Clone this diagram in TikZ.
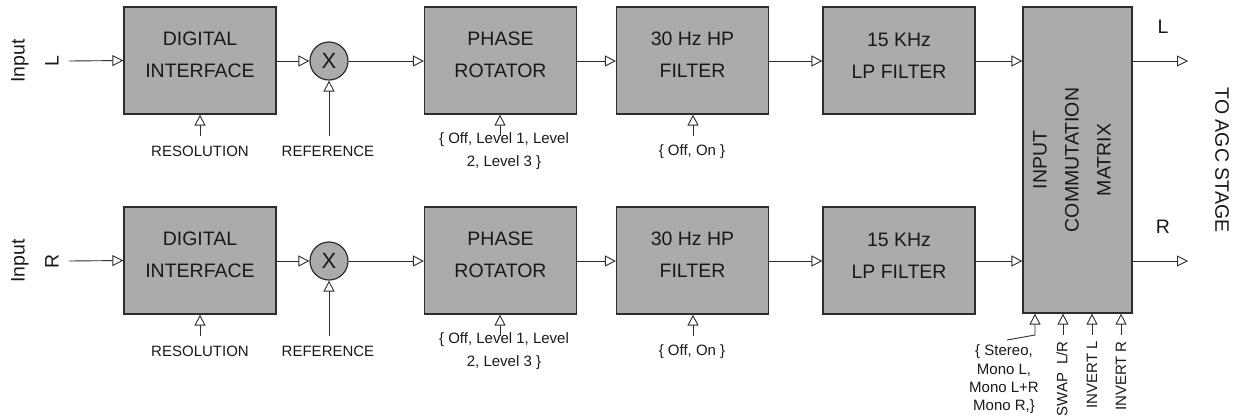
\documentclass[tikz,border=0pt]{standalone}
\usepackage{fontspec}
\setmainfont{Liberation Sans}
\usetikzlibrary{arrows.meta}
\definecolor{boxgray}{RGB}{171,171,171}
\definecolor{linegray}{RGB}{45,45,45}
\definecolor{txt}{RGB}{25,25,25}
\begin{document}
\begin{tikzpicture}[x=1pt,y=-1pt,
  blk/.style={draw=linegray, line width=1.2pt, fill=boxgray, minimum width=152pt, minimum height=107pt, inner sep=0pt},
  blktext/.style={align=center, text=txt, font=\fontsize{19.5}{32}\selectfont, inner sep=0pt},
  big/.style={text=txt, font=\fontsize{19.5}{34}\selectfont, inner sep=0pt},
  small/.style={text=txt, font=\fontsize{15}{23}\selectfont, inner sep=0pt, align=center},
  conn/.style={draw=linegray, line width=0.9pt, -{Triangle[length=11pt,width=11pt,fill=white]}},
  mult/.style={circle, draw=linegray, line width=1.2pt, fill=boxgray, minimum size=38pt, inner sep=0pt, font=\fontsize{22}{22}\selectfont, text=txt}
]
\useasboundingbox (0,0) rectangle (1238,418);

\foreach \r/\dy in {L/0,R/200}{
  % input label
  \node[big, rotate=90, align=center] (in\r) at (35,61+\dy) {Input\\\r};
  \coordinate (src\r) at (69,61+\dy);
  % blocks
  \node[blk] (di\r) at (200,60.5+\dy) {};
  \node[blktext] (dit\r) at (200,55+\dy) {DIGITAL\\INTERFACE};
  \node[mult] (x\r) at (329,61+\dy) {X};
  \node[blk] (pr\r) at (500.5,60.5+\dy) {};
  \node[blktext] (prt\r) at (500.5,54.5+\dy) {PHASE\\ROTATOR};
  \node[blk] (hp\r) at (692.5,60.5+\dy) {};
  \node[blktext] (hpt\r) at (692.5,54.5+\dy) {30 Hz HP\\FILTER};
  \node[blk] (lp\r) at (899,60.5+\dy) {};
  \node[blktext] (lpt\r) at (899,55.5+\dy) {15 KHz\\LP FILTER};
  % control labels
  \node[small] (res\r) at (200,151+\dy) {RESOLUTION};
  \node[small] (ref\r) at (328,151+\dy) {REFERENCE};
  \node[small] (prc\r) at (504,151.5+\dy) {\{ Off, Level 1, Level\\2, Level 3 \}};
  \node[small] (hpc\r) at (692,152+\dy) {\{ Off, On \}};
  \coordinate (cres\r) at (200,136+\dy);
  \coordinate (cref\r) at (329,136+\dy);
  \coordinate (cpr\r) at (500,136+\dy);
  \coordinate (chp\r) at (693,136+\dy);
}

% commutation matrix
\node[draw=linegray, line width=1.2pt, fill=boxgray, minimum width=109pt, minimum height=306pt, inner sep=0pt] (mat) at (1077.5,160) {};
\node[blktext, rotate=90] (matt) at (1072,160) {INPUT\\COMMUTATION\\MATRIX};

\foreach \r in {L,R}{
  \draw[conn] (src\r) -- (di\r.west);
  \draw[conn] (di\r.east |- x\r.west) -- (x\r.west);
  \draw[conn] (x\r.east) -- (x\r.east -| pr\r.west);
  \draw[conn] (pr\r.east |- x\r.east) -- (x\r.east -| hp\r.west);
  \draw[conn] (hp\r.east |- x\r.east) -- (x\r.east -| lp\r.west);
  \draw[conn] (lp\r.east |- x\r.east) -- (x\r.east -| mat.west);
  \draw[conn] (cres\r) -- (cres\r |- di\r.south);
  \draw[conn] (cref\r) -- (x\r.south);
  \draw[conn] (cpr\r) -- (cpr\r |- pr\r.south);
  \draw[conn] (chp\r) -- (chp\r |- hp\r.south);
}

% outputs
\coordinate (outL) at (1188,61);
\coordinate (outR) at (1188,261);
\draw[conn] (outL -| mat.east) -- (outL);
\draw[conn] (outR -| mat.east) -- (outR);
\node[big] (olabL) at (1163,27) {L};
\node[big] (olabR) at (1163,227) {R};
\node[big, rotate=-90] (agc) at (1222,160) {TO AGC STAGE};

% matrix controls
\node[small, font=\fontsize{15}{18.3}\selectfont] (mode) at (1004,379.5) {\{ Stereo,\hspace{21pt}\\Mono L,\\Mono L+R\\Mono R,\}};
\coordinate (m0) at (1007,340);
\coordinate (m1) at (1035,335);
\draw[conn] (m0) -- (m1) -- (m1 |- mat.south);
\node[small, rotate=90, anchor=east] (swap) at (1062,341) {SWAP\ \ L/R};
\node[small, rotate=90, anchor=east] (invl) at (1092,341) {INVERT L};
\node[small, rotate=90, anchor=east] (invr) at (1121,341) {INVERT R};
\coordinate (m2) at (1063,335);
\coordinate (m3) at (1092,335);
\coordinate (m4) at (1121,335);
\draw[conn] (m2) -- (m2 |- mat.south);
\draw[conn] (m3) -- (m3 |- mat.south);
\draw[conn] (m4) -- (m4 |- mat.south);
\end{tikzpicture}
\end{document}
